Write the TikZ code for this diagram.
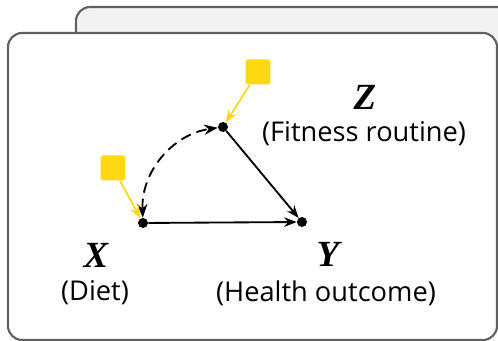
\documentclass[tikz,border=0pt]{standalone}
\usepackage{fontspec}
\setsansfont{Open Sans}
\newfontfamily\varfont{Liberation Serif}
\usetikzlibrary{arrows.meta,positioning,calc}

\begin{document}
\begin{tikzpicture}[
  x=0.02cm, y=0.02cm,
  >=Stealth,
  card/.style={draw=black!62, line width=1.2pt, rounded corners=8pt},
  dot/.style={circle, fill=black, inner sep=0pt, minimum size=0.2cm},
  noise/.style={fill=yellowsq, rounded corners=1pt, minimum size=0.5cm,
              inner sep=0pt},
  arr/.style={-{Stealth[length=0.25cm, width=0.19cm]}, line width=1.05pt},
  narr/.style={-{Stealth[length=0.25cm, width=0.19cm]}, line width=1pt,
              draw=yellowsq},
  var/.style={font=\varfont\bfseries\itshape\fontsize{21}{24}\selectfont},
  lbl/.style={font=\sffamily\fontsize{15.5}{18}\selectfont},
]
\definecolor{yellowsq}{HTML}{FFD814}

\useasboundingbox (0,0) rectangle (498,341);
\clip (0,0) rectangle (498,341);

% === Cards ===
\draw[card, fill=black!5] (76,334) rectangle (560,150);
\draw[card, fill=white] (8,308) rectangle (497,1);

% === Variables ===
\node[dot] (x) at (143,118) {};
\node[dot] (y) at (302,119) {};
\node[dot] (z) at (223,214) {};

\node[var] (xname) at (96,86) {X};
\node[lbl] (xdesc) at (95,48) {(Diet)};
\node[var] (yname) at (328,87) {Y};
\node[lbl] (ydesc) at (326,48) {(Health outcome)};
\node[var] (zname) at (365,244) {Z};
\node[lbl] (zdesc) at (364,207) {(Fitness routine)};

% Noise terms
\node[noise] (ux) at (113,173) {};
\node[noise] (uz) at (258,269) {};

% Arrows
\draw[arr] (x) -- (y);
\draw[arr] (z) -- (y);
\draw[arr, <->, dashed, dash pattern=on 6pt off 3.5pt] (x) to[bend left=42] (z);
\draw[narr] (ux) -- (x);
\draw[narr] (uz) -- (z);

\end{tikzpicture}
\end{document}
